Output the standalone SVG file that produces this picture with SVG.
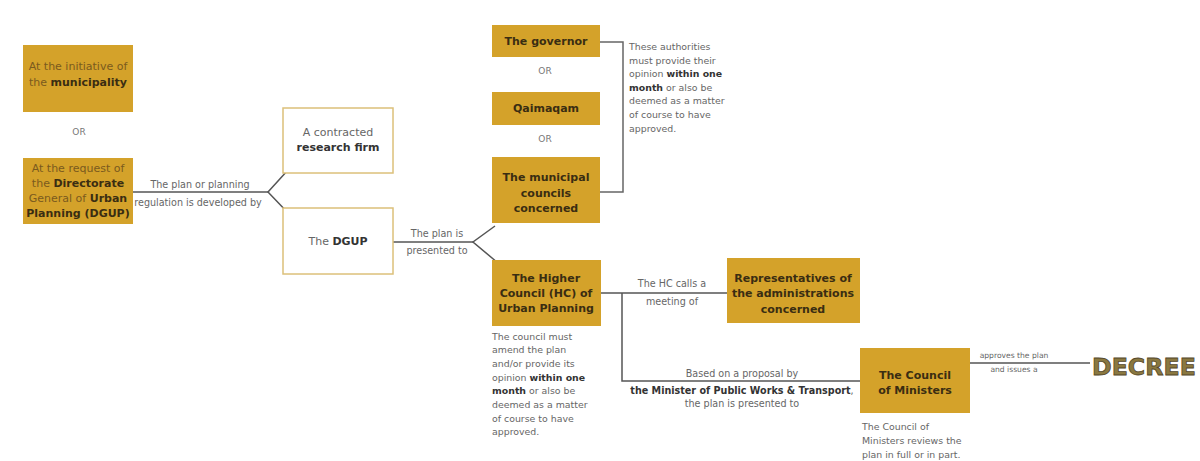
<svg xmlns="http://www.w3.org/2000/svg" width="1200" height="461" viewBox="0 0 1200 461">
<style>
.gold{fill:#d4a22a}
.wbox{fill:#ffffff;stroke:#dcc07a;stroke-width:1.5}
.bt{font-family:"DejaVu Sans",sans-serif;font-size:11px;text-anchor:middle;fill:#7a5a1e}
.bt .b,.bb{font-weight:bold;fill:#3a2d12}
.wt{font-family:"DejaVu Sans",sans-serif;font-size:11px;text-anchor:middle;fill:#666}
.wt .b{font-weight:bold;fill:#333}
.sm{font-family:"DejaVu Sans",sans-serif;font-size:9.4px;fill:#666}
.sm .b{font-weight:bold;fill:#333}
.lb{font-family:"DejaVu Sans",sans-serif;font-size:9.6px;fill:#666;text-anchor:middle}
.lb .b{font-weight:bold;fill:#333}
.or{font-family:"DejaVu Sans",sans-serif;font-size:9px;fill:#777;text-anchor:middle}
.ln{fill:none;stroke:#555;stroke-width:1.5}
</style>
<rect width="1200" height="461" fill="#ffffff"/>

<g id="connectors">
<polyline class="ln" points="133,192 268,192"/>
<polyline class="ln" points="288,170 268,192 290,215"/>
<polyline class="ln" points="393,242 473,242"/>
<polyline class="ln" points="495,226 473,242 498,263"/>
<polyline class="ln" style="stroke:#666" points="600,42 623,42 623,192 600,192"/>
<polyline class="ln" points="601,293 727,293"/>
<polyline class="ln" points="622,293 622,381 860,381"/>
<polyline class="ln" points="970,363 1090,363"/>
<text class="lb" x="200" y="188">The plan or planning</text>
<text class="lb" x="198" y="206">regulation is developed by</text>
<text class="lb" x="437" y="237">The plan is</text>
<text class="lb" x="437" y="254">presented to</text>
<text class="lb" x="672" y="287">The HC calls a</text>
<text class="lb" x="672" y="305">meeting of</text>
<text class="lb" x="742" y="377">Based on a proposal by</text>
<text class="lb" x="742" y="394"><tspan class="b">the Minister of Public Works &amp; Transport</tspan>,</text>
<text class="lb" x="742" y="407">the plan is presented to</text>
<text class="lb" x="1014" y="358" style="font-size:7.6px">approves the plan</text>
<text class="lb" x="1014" y="372" style="font-size:7.6px">and issues a</text>
</g>

<g id="n-municipality">
<rect class="gold" x="23" y="45" width="110" height="67"/>
<text class="bt" x="78" y="70">At the initiative of</text>
<text class="bt" x="78" y="86">the <tspan class="b">municipality</tspan></text>
</g>
<text class="or" x="79" y="135">OR</text>

<g id="n-dgup-request">
<rect class="gold" x="23" y="158" width="110" height="66"/>
<text class="bt" x="78" y="172">At the request of</text>
<text class="bt" x="78" y="187">the <tspan class="b">Directorate</tspan></text>
<text class="bt" x="78" y="202">General of <tspan class="b">Urban</tspan></text>
<text class="bt" x="78" y="217"><tspan class="b">Planning (DGUP)</tspan></text>
</g>

<g id="n-research">
<rect class="wbox" x="283" y="108" width="110" height="65"/>
<text class="wt" x="338" y="136">A contracted</text>
<text class="wt" x="338" y="151"><tspan class="b">research firm</tspan></text>
</g>

<g id="n-dgup">
<rect class="wbox" x="283" y="208" width="110" height="66"/>
<text class="wt" x="338" y="245">The <tspan class="b">DGUP</tspan></text>
</g>

<g id="n-governor">
<rect class="gold" x="492" y="25" width="108" height="32"/>
<text class="bt" x="546" y="45"><tspan class="b">The governor</tspan></text>
</g>
<text class="or" x="545" y="74">OR</text>

<g id="n-qaimaqam">
<rect class="gold" x="492" y="92" width="108" height="33"/>
<text class="bt" x="546" y="112"><tspan class="b">Qaimaqam</tspan></text>
</g>
<text class="or" x="545" y="142">OR</text>

<g id="n-municipal-councils">
<rect class="gold" x="492" y="157" width="108" height="66"/>
<text class="bt" x="546" y="181"><tspan class="b">The municipal</tspan></text>
<text class="bt" x="546" y="197"><tspan class="b">councils</tspan></text>
<text class="bt" x="546" y="212"><tspan class="b">concerned</tspan></text>
</g>

<g id="n-authorities-note">
<text class="sm" x="629" y="50">These authorities</text>
<text class="sm" x="629" y="63.6">must provide their</text>
<text class="sm" x="629" y="77.2">opinion <tspan class="b">within one</tspan></text>
<text class="sm" x="629" y="90.8"><tspan class="b">month</tspan> or also be</text>
<text class="sm" x="629" y="104.4">deemed as a matter</text>
<text class="sm" x="629" y="118">of course to have</text>
<text class="sm" x="629" y="131.6">approved.</text>
</g>

<g id="n-higher-council">
<rect class="gold" x="492" y="260" width="109" height="66"/>
<text class="bt" x="546" y="282"><tspan class="b">The Higher</tspan></text>
<text class="bt" x="546" y="297"><tspan class="b">Council (HC) of</tspan></text>
<text class="bt" x="546" y="312"><tspan class="b">Urban Planning</tspan></text>
<text class="sm" x="492" y="339.5">The council must</text>
<text class="sm" x="492" y="353.2">amend the plan</text>
<text class="sm" x="492" y="366.9">and/or provide its</text>
<text class="sm" x="492" y="380.6">opinion <tspan class="b">within one</tspan></text>
<text class="sm" x="492" y="394.3"><tspan class="b">month</tspan> or also be</text>
<text class="sm" x="492" y="408">deemed as a matter</text>
<text class="sm" x="492" y="421.7">of course to have</text>
<text class="sm" x="492" y="435.4">approved.</text>
</g>

<g id="n-representatives">
<rect class="gold" x="727" y="258" width="133" height="65"/>
<text class="bt" x="793" y="282"><tspan class="b">Representatives of</tspan></text>
<text class="bt" x="793" y="297"><tspan class="b">the administrations</tspan></text>
<text class="bt" x="793" y="313"><tspan class="b">concerned</tspan></text>
</g>

<g id="n-council-ministers">
<rect class="gold" x="860" y="348" width="110" height="65"/>
<text class="bt" x="915" y="379"><tspan class="b">The Council</tspan></text>
<text class="bt" x="915" y="394"><tspan class="b">of Ministers</tspan></text>
<text class="sm" x="862" y="430">The Council of</text>
<text class="sm" x="862" y="444">Ministers reviews the</text>
<text class="sm" x="862" y="458">plan in full or in part.</text>
</g>

<g id="n-decree">
<text x="1092" y="375" font-family="DejaVu Sans, sans-serif" font-weight="bold" font-size="23.7" fill="#8a7840" stroke="#54472a" stroke-width="0.8">DECREE</text>
</g>
</svg>
